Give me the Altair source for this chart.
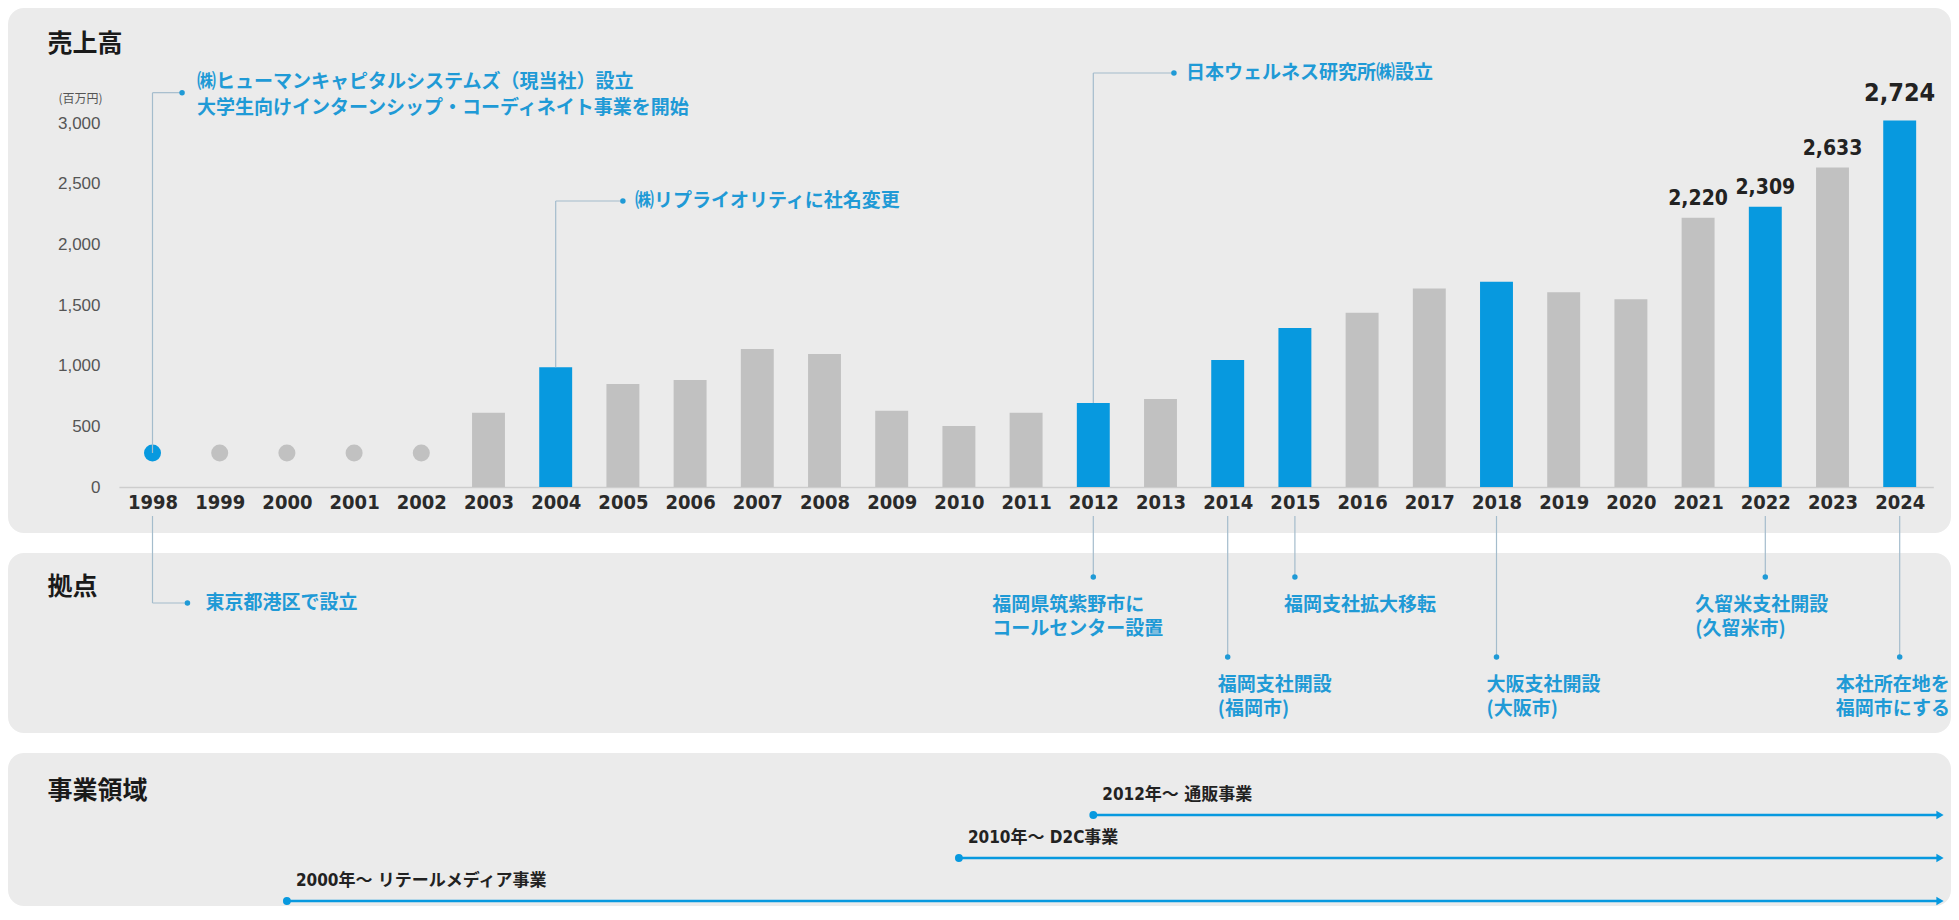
import altair as alt
import pandas as pd

# ------------------------------------------------------------------ data
years = list(range(1998, 2025))
sales = [280, 280, 280, 280, 280,
         612, 987, 849, 882, 1137, 1096, 629, 503, 612, 693, 725,
         1047, 1311, 1437, 1637, 1692, 1605, 1547, 2220, 2309, 2633, 3020]
dot_years = [1998, 1999, 2000, 2001, 2002]
highlight_years = [1998, 2004, 2012, 2014, 2015, 2018, 2022, 2024]
value_label_years = [2021, 2022, 2023, 2024]
value_label_text = ["2,220", "2,309", "2,633", "2,724"]
y_ticks = [0, 500, 1000, 1500, 2000, 2500, 3000]

event_years = [1998, 2004, 2012]
event_text = [
    "㈱ヒューマンキャピタルシステムズ（現当社）設立\n大学生向けインターンシップ・コーディネイト事業を開始",
    "㈱リプライオリティに社名変更",
    "日本ウェルネス研究所㈱設立",
]

place_years = [1998, 2012, 2014, 2015, 2018, 2022, 2024]
place_text = [
    "東京都港区で設立",
    "福岡県筑紫野市に\nコールセンター設置",
    "福岡支社開設\n(福岡市)",
    "福岡支社拡大移転",
    "大阪支社開設\n(大阪市)",
    "久留米支社開設\n(久留米市)",
    "本社所在地を\n福岡市にする",
]

biz_start = [2012, 2010, 2000]
biz_text = ["2012年〜 通販事業", "2010年〜 D2C事業", "2000年〜 リテールメディア事業"]

# ------------------------------------------------------------------ layout / style
BLUE = "#0799df"
TXTBLUE = "#1f9ad6"
GRAY = "#c1c1c1"
LINE = "#a4bccc"
PANEL = "#ebebeb"
DARK = "#222222"
JP = "Noto Sans CJK JP"
NUM = "Liberation Sans Narrow, DejaVu Sans Condensed, Roboto Condensed, Noto Sans CJK JP"
STEP = 67.2  # px per year

W = 1943
H1, H2, H3 = 525, 180, 153

# callout layout for the sales panel (level in sales units, arm in years)
event_level = [3250, 2357, 3412]
event_arm = [0.44, 1.0, 1.2]
# layout for the 拠点 panel
place_lane = [0, 0, 1, 0, 1, 0, 1]
place_dx = [None, -101, -10, -11, -10, -70, -64]
biz_end = 2024.6

XS = alt.Scale(domain=[1997.5, 2024.5], range=[110.9, 1925.3], nice=False, zero=False)

# ------------------------------------------------------------------ panel 1: 売上高
df_sales = pd.DataFrame({"year": years, "sales": sales})
df_sales["hl"] = df_sales["year"].isin(highlight_years).astype(int)
df_sales["kind"] = ["dot" if y in dot_years else "bar" for y in years]
sales_by_year = dict(zip(years, sales))

YS1 = alt.Scale(domain=[0, 3000], range=[479, 115], nice=False, zero=False)

xaxis1 = alt.Axis(
    values=years, format="d", labelFont=NUM, labelFontSize=20, labelFontWeight="bold",
    labelColor="#2a2a2a", labelPadding=5, ticks=False, tickSize=0,
    domainColor="#cdcdcd", domainWidth=1.5, grid=False, offset=-46,
    labelFlush=False, labelOverlap=False, minExtent=0,
    title="売上高", titleX=39, titleY=43 - 479, titleAngle=0, titleAlign="left",
    titleBaseline="alphabetic", titleFont=JP, titleFontSize=25, titleFontWeight="bold",
    titleColor="#1a1a1a",
)
yaxis1 = alt.Axis(
    values=y_ticks, format=",d", labelFont="Liberation Sans, Arial, sans-serif", labelFontSize=17,
    labelColor="#555555", ticks=False, tickSize=0, domain=False, grid=False,
    offset=-94, labelPadding=2, minExtent=0,
    title="(百万円)", titleX=0, titleY=90, titleAngle=0, titleAlign="right",
    titleBaseline="middle", titleFont=JP, titleFontSize=12, titleFontWeight="normal",
    titleColor="#555555",
)


def X1(f):
    return alt.X(f, type="quantitative", scale=XS, axis=xaxis1)


def Y1(f):
    return alt.Y(f, type="quantitative", scale=YS1, axis=yaxis1)


hl_color = alt.condition("datum.hl == 1", alt.value(BLUE), alt.value(GRAY))

base1 = alt.Chart(df_sales)
bars = base1.transform_filter("datum.kind == 'bar'").transform_calculate(
    x_lo="datum.year - 0.245", x_hi="datum.year + 0.245"
).mark_bar().encode(
    x=X1("x_lo"), x2="x_hi:Q", y=Y1("sales"), y2=alt.datum(0), color=hl_color
)
dots = base1.transform_filter("datum.kind == 'dot'").mark_circle(size=290, opacity=1).encode(
    x=X1("year"), y=Y1("sales"), color=hl_color
)

df_ev = pd.DataFrame({"year": event_years, "text": event_text,
                      "level": event_level, "arm": event_arm})
df_ev["val"] = [sales_by_year[y] for y in event_years]
df_ev["arm_end"] = df_ev["year"] + df_ev["arm"]
df_ev["multi"] = [1 if "\n" in t else 0 for t in event_text]
ev = alt.Chart(df_ev)
ev_v = ev.mark_rule(color=LINE, strokeWidth=1.2).encode(x=X1("year"), y=Y1("val"), y2="level:Q")
ev_h = ev.mark_rule(color=LINE, strokeWidth=1.2).encode(x=X1("year"), x2="arm_end:Q", y=Y1("level"))
ev_d = ev.mark_circle(size=30, color=TXTBLUE, opacity=1).encode(x=X1("arm_end"), y=Y1("level"))
ev_t1 = ev.transform_filter("datum.multi == 0").mark_text(
    align="left", baseline="middle", dx=12, font=JP, fontSize=19,
    fontWeight="bold", color=TXTBLUE).encode(
    x=X1("arm_end"), y=Y1("level"), text="text:N")
ev_t2 = ev.transform_filter("datum.multi == 1").mark_text(
    align="left", baseline="middle", dx=15, dy=-11, font=JP, fontSize=19,
    fontWeight="bold", color=TXTBLUE, lineBreak="\n", lineHeight=26).encode(
    x=X1("arm_end"), y=Y1("level"), text="text:N")

df_val = pd.DataFrame({"year": value_label_years, "label": value_label_text})
df_val["sales"] = [sales_by_year[y] for y in value_label_years]
vl = alt.Chart(df_val)
vl_small = vl.transform_filter("datum.year < 2024").mark_text(
    baseline="alphabetic", dy=-13, font=NUM, fontSize=21, fontWeight="bold", color=DARK
).encode(x=X1("year"), y=Y1("sales"), text="label:N")
vl_big = vl.transform_filter("datum.year == 2024").mark_text(
    baseline="alphabetic", dy=-20, font=NUM, fontSize=25, fontWeight="bold", color=DARK
).encode(x=X1("year"), y=Y1("sales"), text="label:N")

panel1 = alt.layer(bars, dots, ev_v, ev_h, ev_d, ev_t1, ev_t2, vl_small, vl_big).properties(
    width=W, height=H1)

# ------------------------------------------------------------------ panel 2: 拠点
YS2 = alt.Scale(domain=[0, 1], range=[24, 104], nice=False, zero=False)
yaxis2 = alt.Axis(labels=False, ticks=False, tickSize=0, domain=False, grid=False, minExtent=0,
                  title="拠点", titleX=39, titleY=41, titleAngle=0, titleAlign="left",
                  titleBaseline="alphabetic", titleFont=JP, titleFontSize=25,
                  titleFontWeight="bold", titleColor="#1a1a1a")


def X2(f):
    return alt.X(f, type="quantitative", scale=XS, axis=None)


def Y2(f):
    return alt.Y(f, type="quantitative", scale=YS2, axis=yaxis2)


df_pl = pd.DataFrame({"year": place_years, "text": place_text, "lane": place_lane})
df_pl["tx"] = [y + (d if d is not None else 0) / STEP for y, d in zip(place_years, place_dx)]
df_pl["first"] = [1 if i == 0 else 0 for i in range(len(place_years))]
df_pl["arm_end"] = df_pl["year"] + 0.52

pl = alt.Chart(df_pl)
pl_drop = pl.transform_filter("datum.first == 0")
pl_el = pl.transform_filter("datum.first == 1")

drop_rule = pl_drop.mark_rule(color=LINE, strokeWidth=1.2).encode(
    x=X2("year"), y=Y2("lane"), y2=alt.value(-37))
drop_dot = pl_drop.mark_circle(size=30, color=TXTBLUE, opacity=1).encode(x=X2("year"), y=Y2("lane"))
drop_txt = pl_drop.mark_text(align="left", baseline="top", dy=19, font=JP, fontSize=19,
                             fontWeight="bold", color=TXTBLUE, lineBreak="\n", lineHeight=24).encode(
    x=X2("tx"), y=Y2("lane"), text="text:N")

el_rule_v = pl_el.mark_rule(color=LINE, strokeWidth=1.2, yOffset=26).encode(
    x=X2("year"), y=Y2("lane"), y2=alt.value(-37))
el_rule_h = pl_el.mark_rule(color=LINE, strokeWidth=1.2, yOffset=26).encode(
    x=X2("year"), x2="arm_end:Q", y=Y2("lane"))
el_dot = pl_el.mark_circle(size=30, color=TXTBLUE, opacity=1, yOffset=26).encode(
    x=X2("arm_end"), y=Y2("lane"))
el_txt = pl_el.mark_text(align="left", baseline="middle", dx=18, yOffset=26, font=JP, fontSize=19,
                         fontWeight="bold", color=TXTBLUE).encode(
    x=X2("arm_end"), y=Y2("lane"), text="text:N")

panel2 = alt.layer(drop_rule, el_rule_v, el_rule_h, drop_dot, el_dot, drop_txt, el_txt).properties(
    width=W, height=H2)

# ------------------------------------------------------------------ panel 3: 事業領域
YS3 = alt.Scale(domain=[0, 2], range=[62, 148], nice=False, zero=False)
yaxis3 = alt.Axis(labels=False, ticks=False, tickSize=0, domain=False, grid=False, minExtent=0,
                  title="事業領域", titleX=39, titleY=45, titleAngle=0, titleAlign="left",
                  titleBaseline="alphabetic", titleFont=JP, titleFontSize=25,
                  titleFontWeight="bold", titleColor="#1a1a1a")


def X3(f):
    return alt.X(f, type="quantitative", scale=XS, axis=None)


def Y3(f):
    return alt.Y(f, type="quantitative", scale=YS3, axis=yaxis3)


df_biz = pd.DataFrame({"start": biz_start, "text": biz_text})
df_biz["lane"] = df_biz["start"].rank(ascending=False).astype(int) - 1
df_biz["end"] = biz_end
bz = alt.Chart(df_biz)
bz_line = bz.mark_rule(color=BLUE, strokeWidth=2.6).encode(x=X3("start"), x2="end:Q", y=Y3("lane"))
bz_dot = bz.mark_circle(size=62, color=BLUE, opacity=1).encode(x=X3("start"), y=Y3("lane"))
bz_arrow = bz.mark_point(shape="triangle-right", filled=True, size=70, color=BLUE, opacity=1).encode(
    x=X3("end"), y=Y3("lane"))
bz_txt = bz.mark_text(align="left", baseline="middle", dx=9, dy=-20, font=NUM, fontSize=17,
                      fontWeight="bold", color=DARK).encode(x=X3("start"), y=Y3("lane"), text="text:N")

panel3 = alt.layer(bz_line, bz_dot, bz_arrow, bz_txt).properties(width=W, height=H3)

# ------------------------------------------------------------------ assemble
chart = alt.vconcat(panel1, panel2, panel3, spacing=20, bounds="flush").resolve_scale(
    x="independent", y="independent"
).properties(padding=0, background="white").configure_view(
    fill=PANEL, stroke=None, cornerRadius=16
)

chart.save("out.html", embed_options={"renderer": "svg", "actions": False})
